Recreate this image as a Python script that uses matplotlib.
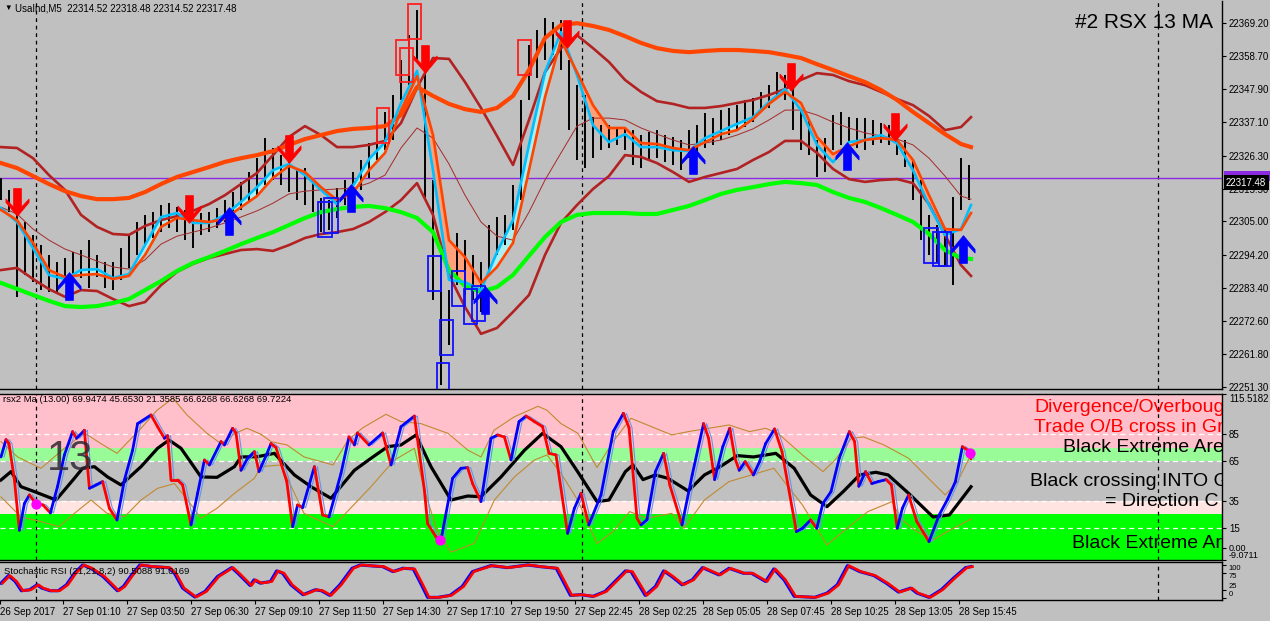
import numpy as np
import matplotlib
matplotlib.use("Agg")
import matplotlib.pyplot as plt
from matplotlib.path import Path
from matplotlib.collections import LineCollection
from matplotlib.patches import Rectangle
import matplotlib.transforms as mtransforms

plt.rcParams['font.family'] = ['Liberation Sans', 'DejaVu Sans']

# ------------------------------------------------------------------ data
# price bars (every 4th M5 bar), high / low
bar_high = [22319.1, 22315.2, 22308.0, 22304.8, 22300.6, 22297.3, 22294.1, 22291.8, 22293.1, 22295.0,
            22295.7, 22298.9, 22294.1, 22291.8, 22291.8, 22296.3, 22300.6, 22304.8, 22307.1, 22308.0,
            22310.3, 22310.9, 22309.6, 22308.7, 22307.1, 22307.7, 22308.0, 22309.3, 22311.9, 22314.5,
            22317.8, 22321.0, 22325.5, 22332.0, 22328.8, 22326.5, 22324.2, 22321.6, 22322.3, 22318.4,
            22312.6, 22311.9, 22315.8, 22318.4, 22321.0, 22324.9, 22330.4, 22336.2, 22340.5, 22346.0,
            22357.3, 22365.4, 22373.6, 22357.3, 22318.4, 22295.7, 22282.7, 22301.2, 22298.9, 22294.1,
            22291.8, 22303.8, 22306.4, 22307.1, 22316.8, 22344.4, 22362.2, 22367.1, 22371.0, 22369.7,
            22370.3, 22357.3, 22349.2, 22346.0, 22338.8, 22336.2, 22336.2, 22335.6, 22335.3, 22334.6,
            22333.0, 22334.0, 22334.6, 22333.0, 22332.4, 22331.4, 22334.6, 22336.2, 22340.1, 22338.5,
            22341.1, 22341.8, 22342.7, 22344.4, 22345.0, 22347.0, 22349.2, 22353.4, 22352.5, 22349.9,
            22341.1, 22337.9, 22331.4, 22332.0, 22339.5, 22340.5, 22338.8, 22338.5, 22338.5, 22337.9,
            22336.9, 22336.2, 22334.6, 22331.4, 22324.9, 22318.4, 22307.1, 22303.8, 22302.2, 22312.9,
            22325.5, 22323.3]
bar_low = [22311.9, 22308.0, 22280.5, 22287.6, 22285.3, 22282.7, 22282.1, 22281.7, 22285.3, 22286.0,
           22286.6, 22283.4, 22286.9, 22283.4, 22282.7, 22286.0, 22289.9, 22294.1, 22297.3, 22299.6,
           22301.5, 22302.8, 22301.5, 22298.9, 22296.3, 22300.6, 22301.5, 22302.8, 22304.8, 22306.1,
           22308.7, 22311.3, 22313.5, 22316.8, 22318.4, 22316.8, 22314.5, 22311.9, 22310.3, 22308.0,
           22301.5, 22302.2, 22306.1, 22310.3, 22312.6, 22315.2, 22319.1, 22324.9, 22328.1, 22331.4,
           22344.4, 22349.2, 22357.3, 22311.9, 22279.5, 22251.9, 22264.9, 22284.3, 22281.1, 22279.5,
           22275.6, 22289.2, 22294.1, 22297.3, 22302.2, 22311.9, 22344.4, 22351.5, 22357.3, 22359.0,
           22354.1, 22334.6, 22324.9, 22322.3, 22325.5, 22328.1, 22328.8, 22329.8, 22328.1, 22323.3,
           22322.3, 22324.9, 22325.5, 22324.2, 22323.3, 22321.6, 22325.5, 22327.5, 22328.8, 22329.8,
           22331.4, 22333.0, 22334.6, 22335.6, 22337.2, 22340.5, 22341.8, 22345.0, 22344.4, 22334.6,
           22328.1, 22326.5, 22319.4, 22321.0, 22328.1, 22329.8, 22330.4, 22328.8, 22328.1, 22329.8,
           22330.4, 22329.8, 22326.5, 22322.6, 22311.9, 22298.9, 22294.1, 22291.8, 22290.8, 22284.3,
           22308.7, 22311.9]
bar_index = np.arange(len(bar_high)) * 4

# indicator lines in the main window (every 8th bar + last bar)
line_bars = np.r_[np.arange(0, 481, 8), 485]
ma_slow = [22323.9, 22322.3, 22319.7, 22317.1, 22314.8, 22313.2, 22312.2, 22312.2, 22312.6, 22314.5,
           22317.1, 22319.4, 22321.0, 22322.6, 22324.3, 22325.5, 22326.5, 22327.8, 22329.8, 22331.7,
           22333.0, 22334.3, 22335.0, 22335.3, 22335.9, 22339.5, 22348.6, 22345.7, 22343.1, 22341.4,
           22340.5, 22341.8, 22345.7, 22354.1, 22364.5, 22368.7, 22369.3, 22368.4, 22367.1, 22365.1,
           22362.9, 22361.2, 22360.3, 22359.9, 22360.3, 22360.6, 22360.6, 22360.3, 22359.9, 22359.0,
           22358.0, 22356.0, 22354.1, 22352.1, 22350.2, 22347.6, 22344.4, 22340.5, 22336.9, 22333.3,
           22330.1, 22329.1]
ma_green = [22285.0, 22283.1, 22281.1, 22279.2, 22277.5, 22277.2, 22277.5, 22278.5, 22279.8, 22282.7,
            22285.6, 22288.9, 22291.5, 22293.4, 22295.4, 22297.6, 22299.6, 22301.5, 22303.8, 22306.1,
            22308.0, 22309.0, 22309.7, 22310.0, 22309.3, 22308.0, 22306.1, 22301.5, 22289.2, 22284.0,
            22282.1, 22283.7, 22287.6, 22293.8, 22299.9, 22304.8, 22307.1, 22307.7, 22307.7, 22307.7,
            22307.4, 22307.4, 22308.7, 22310.0, 22311.9, 22313.9, 22315.2, 22316.1, 22317.1, 22317.8,
            22317.4, 22316.8, 22314.5, 22312.6, 22311.3, 22309.3, 22307.1, 22304.8, 22300.9, 22295.7,
            22293.1, 22292.8]
band_up = [22329.1, 22328.8, 22325.5, 22320.0, 22315.2, 22307.1, 22303.2, 22300.9, 22300.6, 22303.5,
           22305.4, 22306.7, 22308.4, 22310.6, 22313.5, 22317.1, 22320.7, 22326.5, 22332.4, 22335.9,
           22333.0, 22329.1, 22329.1, 22329.8, 22331.1, 22336.9, 22348.3, 22358.0, 22357.7, 22350.2,
           22341.8, 22332.7, 22323.3, 22337.9, 22353.4, 22361.2, 22365.4, 22361.2, 22356.7, 22350.9,
           22347.0, 22344.0, 22343.1, 22341.8, 22341.8, 22342.4, 22343.4, 22344.4, 22346.0, 22347.9,
           22350.9, 22353.1, 22352.5, 22350.5, 22349.2, 22347.0, 22344.7, 22342.7, 22339.2, 22334.6,
           22335.6, 22338.8]
band_mid = [22309.6, 22307.4, 22302.5, 22298.9, 22296.0, 22294.1, 22292.1, 22290.2, 22289.5, 22292.5,
            22297.6, 22300.2, 22301.5, 22302.8, 22304.5, 22306.4, 22308.4, 22310.9, 22313.9, 22314.8,
            22315.2, 22315.5, 22315.8, 22317.4, 22320.0, 22328.8, 22335.3, 22332.0, 22323.6, 22313.5,
            22304.8, 22300.2, 22298.9, 22308.0, 22318.4, 22327.2, 22335.9, 22338.5, 22338.5, 22337.9,
            22335.3, 22333.3, 22331.4, 22329.8, 22330.4, 22331.4, 22333.0, 22335.0, 22337.9, 22341.1,
            22341.1, 22339.5, 22337.2, 22335.3, 22333.7, 22332.7, 22331.7, 22329.8, 22325.5, 22319.7,
            22313.2, 22312.2]
band_low = [22289.2, 22289.9, 22286.3, 22283.0, 22280.5, 22282.7, 22282.4, 22279.8, 22277.5, 22278.8,
            22284.3, 22288.6, 22291.2, 22293.1, 22294.4, 22295.7, 22296.0, 22295.4, 22297.3, 22299.6,
            22300.9, 22301.5, 22302.5, 22304.8, 22308.0, 22311.9, 22317.4, 22307.1, 22287.6, 22277.2,
            22268.5, 22270.4, 22275.6, 22281.1, 22294.1, 22304.5, 22310.3, 22315.5, 22319.7, 22326.5,
            22325.9, 22323.9, 22321.0, 22317.8, 22319.4, 22320.7, 22322.0, 22324.9, 22327.5, 22331.1,
            22331.1, 22327.2, 22322.0, 22318.7, 22317.8, 22318.4, 22318.7, 22317.4, 22310.6, 22300.6,
            22290.8, 22287.3]
fast_cyan = [22309.3, 22304.8, 22296.3, 22287.6, 22286.3, 22289.2, 22289.5, 22286.6, 22287.9, 22297.3,
             22306.4, 22307.7, 22304.5, 22304.5, 22307.1, 22311.3, 22316.1, 22321.6, 22323.6, 22320.0,
             22315.2, 22310.6, 22316.5, 22325.2, 22330.7, 22343.4, 22353.8, 22321.6, 22286.0, 22285.3,
             22282.7, 22295.0, 22305.4, 22329.8, 22353.4, 22366.4, 22352.5, 22336.2, 22330.7, 22333.3,
             22329.1, 22329.1, 22328.1, 22327.8, 22332.0, 22334.3, 22336.6, 22338.8, 22343.7, 22347.9,
             22341.1, 22329.8, 22324.2, 22330.7, 22331.4, 22333.0, 22330.4, 22321.6, 22310.3, 22300.6,
             22302.5, 22310.3]
fast_orange = [22308.7, 22305.4, 22298.0, 22289.2, 22286.9, 22287.6, 22287.9, 22286.3, 22287.3, 22294.1,
               22303.2, 22306.1, 22305.4, 22304.8, 22305.8, 22309.6, 22313.2, 22319.1, 22323.0, 22321.0,
               22316.1, 22311.9, 22314.2, 22321.6, 22327.2, 22341.1, 22352.1, 22333.0, 22298.9, 22293.4,
               22285.0, 22290.2, 22298.0, 22321.6, 22345.3, 22363.8, 22353.4, 22342.7, 22335.3, 22335.3,
               22330.4, 22330.1, 22328.8, 22328.1, 22330.7, 22333.3, 22334.6, 22338.2, 22343.1, 22347.0,
               22343.4, 22332.4, 22326.8, 22329.4, 22331.4, 22332.0, 22331.4, 22324.9, 22313.5, 22302.5,
               22302.2, 22307.7]

# signal arrows
sell_bar = [8, 94, 144, 212, 283, 395, 447]
sell_price = [22311.3, 22309.0, 22328.5, 22357.7, 22365.8, 22351.8, 22335.6]
buy_bar = [34, 114, 175, 242, 346, 423, 481]
buy_price = [22284.0, 22305.1, 22312.6, 22279.5, 22324.9, 22326.2, 22296.0]

# signal boxes: (first bar, last bar, top, bottom)
red_boxes = [(188, 194, 22341.8, 22330.4), (197.5, 204, 22363.8, 22352.5),
             (199.5, 206, 22361.2, 22350.2), (203.5, 210, 22375.5, 22364.1),
             (258.5, 265, 22363.8, 22352.5)]
blue_boxes = [(158.5, 165.5, 22311.3, 22299.9), (161.5, 168.5, 22312.6, 22301.2),
              (213.5, 220, 22293.8, 22282.4), (218, 224, 22259.0, 22249.6),
              (219.5, 226, 22273.0, 22261.6), (225.5, 232, 22288.9, 22277.5),
              (231.5, 238, 22283.0, 22271.7), (235.5, 242, 22284.0, 22272.7),
              (461.5, 468.5, 22302.8, 22291.5), (466, 473, 22301.5, 22290.5),
              (469, 475, 22301.5, 22290.5)]

price_ticks = [22369.20, 22358.70, 22347.90, 22337.10, 22326.30, 22315.50,
               22305.00, 22294.20, 22283.40, 22272.60, 22261.80, 22251.30]
last_price = 22317.48
hline_price = 22319.0
day_separators = [17.5, 290.5, 578.5]

# RSX window
rsx_bar = [0, 2.5, 4, 6.7, 9.2, 11.7, 14.2, 17.5, 21, 24.7, 28.3, 31.7, 35.8, 37.8, 41.7, 44.2, 47.5,
           50.8, 54.2, 58, 61.7, 65.8, 68.3, 75, 78.3, 81.7, 83.3, 85, 88.3, 90.8, 95, 98.3, 101.7,
           104.2, 110, 111.7, 115.8, 117.5, 120, 123.3, 126.7, 129, 132.7, 135, 137.5, 142.9, 145.8,
           148.3, 150.8, 156.7, 160.8, 164, 170, 174, 176.7, 178.3, 184, 190.8, 195, 200, 206.7, 211.7,
           213.3, 217.5, 220, 225.8, 230, 233.3, 235.8, 240, 245, 248.3, 251.7, 255, 259, 262.5, 266.7,
           270.8, 274, 277.5, 283.3, 286.7, 290, 293.9, 300, 306.1, 311.2, 314, 318, 320, 323, 327.2,
           331.3, 334.4, 340.5, 345.6, 351.3, 353.8, 356.8, 360.9, 364.4, 367, 369.1, 372.1, 376.2,
           379.3, 382.3, 386.8, 390.5, 397.7, 400.7, 404.8, 407.9, 410.9, 415, 419.1, 424.2, 426.8,
           428.9, 432.3, 435.4, 438.5, 442.6, 445.2, 448.1, 450.7, 453.8, 457.9, 464, 469.1, 473.2,
           477.2, 480.7, 483.4, 485]
rsx_val = [68, 81, 78, 51, 13, 33, 39.5, 33, 32, 26, 46, 69.5, 87, 82, 88, 44.5, 47,
           49.5, 29.5, 20.7, 50.7, 73, 93, 99.5, 90.7, 82, 84, 50.7, 50.7, 47, 17, 40.7, 65.7,
           62, 79.5, 77, 89.5, 86, 58, 67, 72, 57, 69.5, 78, 75, 49.5, 15.7,
           32, 30, 60.7, 24.5, 23, 55.7, 83, 77, 86, 77, 86, 62, 90.7, 98.7, 43,
           18, 8, 5.7, 52, 59.5, 60, 48, 34.5, 82, 84.5, 83, 65.7, 94.5, 98.7, 94.5,
           90.7, 70.7, 69.5, 10.7, 29.5, 40.7, 17, 39.5, 87, 100.7, 90, 22, 17, 21, 57,
           70.7, 47, 17, 54.5, 93, 82, 51, 75.7, 89.5, 67, 58, 64.5, 54.5,
           64.5, 78, 89, 72, 12, 14.5, 20.7, 14.5, 33, 42, 67, 87, 79.5,
           46, 57, 48, 49.5, 51, 47, 14.5, 29.5, 39.5, 19.5, 4.5, 24.5, 36,
           49.5, 75.7, 73, 66.6]
rsx_ma_bar = [0, 5, 10, 16.7, 27.5, 36.7, 40.8, 46.7, 53.3, 60, 70, 78.3, 84, 90, 100, 108, 116.7,
              120, 128.3, 136.7, 146.7, 155, 165, 176.7, 185, 193.3, 200, 207.5, 215, 225, 233.3,
              240, 250, 261.7, 270.8, 280, 288.3, 298, 304, 312.2, 316, 321, 327.2, 333.4, 343.6,
              351.7, 359.9, 368.1, 376.2, 387.4, 396.6, 404.8, 413, 421.1, 429.3, 437.4, 443.6,
              453.8, 466, 474.2, 485]
rsx_ma_val = [50.7, 57, 45.7, 42, 35.7, 52, 59.5, 60.7, 53, 47, 60.7, 74.5, 80.7, 74.5, 53, 52.7, 60.7,
              68, 68.2, 70.7, 54.5, 45.7, 37, 58, 67, 75.7, 77, 84.5, 60.7, 35.7, 38.7,
              38.2, 53, 73, 85.7, 75.7, 57, 34.5, 35.7, 57, 62, 51, 54.5, 52, 42.5,
              54.5, 61, 69, 68, 70.7, 59.5, 39.5, 30.7, 42, 54.5, 56.5, 54.5,
              40.7, 23, 24.5, 45.65]
rsx_up_bar = [0, 8.3, 20, 31.7, 41.7, 50, 58, 70, 78, 86, 93, 103, 110, 117, 123, 130, 135, 143,
              151.5, 160, 166, 173.5, 181, 192.5, 200, 210, 223.5, 233.5, 240, 246.5, 256.5, 268.5,
              273, 280, 288.5, 298, 306, 315, 327.2, 335.4, 343.6, 364, 374.2, 382.3, 388.5,
              400.7, 411, 417, 425.2, 431.3, 441.5, 453.8, 462, 472.1, 478.3, 485]
rsx_up_val = [79.5, 68, 59.5, 74.5, 86, 78, 70.7, 89.5, 103, 112, 99.5, 85.7, 78, 85.7, 89.5, 85, 79.5, 77,
              68, 64.5, 62, 80.7, 90, 100, 94.5, 93, 85.7, 73, 68, 88, 98, 106,
              103, 93, 85.7, 60, 79.5, 97, 89.5, 84.5, 87, 92, 87, 89.5, 85.7,
              69.5, 57, 65.7, 82, 83, 77, 67, 54.5, 39.5, 49.5, 69.9]
rsx_lo_bar = [0, 10, 20, 29, 36.7, 45, 53, 61.7, 70, 78.3, 86.7, 93.3, 100, 108, 116.7, 126.7, 130,
              140, 151.5, 166, 185, 196.7, 206.7, 211.7, 218, 225, 236.7, 246.7, 256.7, 266.7, 273,
              280, 288.3, 298, 306, 314.3, 323, 335.4, 341.5, 351.7, 364, 386.4, 400.7, 413, 421,
              433.4, 445.6, 449.7, 457.9, 466, 476.2, 485]
rsx_lo_val = [38, 23, 19.5, 15.7, 25.7, 35.7, 25.7, 23, 35.7, 44.5, 48, 35.7, 22, 29.5, 40.7, 52, 60.7,
              62, 25.7, 15.7, 45.7, 65.7, 74.5, 43, 13, -3.5, 3.2, 35.7, 53, 65.7, 69.5,
              55.7, 35.7, 3, 12, 27, 22, 25.7, 14.5, 35.7, 49.5, 59.5, 32, 2, 12,
              27, 34.5, 22, 12, 5.7, 14.5, 21.4]
dot_bar = [17.5, 219.7, 484.4]
dot_val = [32.7, 5.7, 70.7]
rsx_levels = [115, 85, 65, 35, 15]
rsx_tick_vals = [115.5182, 85, 65, 35, 15, 0, -9.0711]
rsx_tick_text = ['115.5182', '85', '65', '35', '15', '0.00', '-9.0711']

# Stochastic RSI window
stoch_bar = [0, 3.7, 7.1, 10.2, 14.3, 18, 20.4, 24.5, 28.6, 32.7, 36.7, 40.8, 44.9, 51, 58.2, 61.2,
             65.3, 69.4, 75.5, 83.7, 86.7, 90.8, 96.9, 102, 108.2, 115.3, 118.4, 124.5, 126.5, 129.6,
             134.7, 137.8, 140.8, 144.9, 151, 157.1, 160.2, 164.3, 169.4, 175.5, 179.6, 185.7, 190.8,
             195.9, 201, 206.1, 210.2, 213.3, 218.4, 224.5, 230.6, 235.7, 244.9, 253.1, 263.3, 269.4,
             277.6, 284.7, 289.8, 295.9, 302, 312.2, 315, 322.1, 327.2, 331.3, 335.4, 340.5, 345.6,
             350.7, 358.9, 364, 371.1, 375.2, 382.3, 386.4, 391.5, 396.6, 406.8, 413, 418.1, 423.2,
             429.3, 436.4, 442.6, 448.7, 454.8, 457.9, 464, 470.1, 476.2, 482.3, 485]
stoch_val = [45, 68, 50, 22, 25, 40, 30, 22, 22, 40, 75, 100, 90, 65, 22, 35,
             70, 100, 95, 92, 75, 30, 3, 20, 65, 92, 75, 38, 55, 45,
             50, 82, 75, 40, 10, 25, 22, 8, 40, 90, 100, 97, 95,
             80, 90, 88, 40, 2, 2, 8, 35, 80, 98, 92, 100, 95,
             90, 8, 10, 5, 20, 82, 80, 8, 35, 82, 65, 40, 55,
             92, 70, 90, 75, 75, 50, 88, 55, 5, 2, 15, 40, 98,
             80, 68, 45, 18, 30, 15, 2, 25, 60, 92, 95]
stoch_tick_vals = [100, 75, 25, 0]

time_tick_bars = [-0.5, 31, 63, 95, 127, 159, 191, 223, 255, 287, 319, 351, 383, 415, 447, 479]
time_labels = ['26 Sep 2017', '27 Sep 01:10', '27 Sep 03:50', '27 Sep 06:30', '27 Sep 09:10',
               '27 Sep 11:50', '27 Sep 14:30', '27 Sep 17:10', '27 Sep 19:50', '27 Sep 22:45',
               '28 Sep 02:25', '28 Sep 05:05', '28 Sep 07:45', '28 Sep 10:25', '28 Sep 13:05',
               '28 Sep 15:45']

# ------------------------------------------------------------------ figure
W, H = 1270, 621
BG = '#C0C0C0'
fig = plt.figure(figsize=(W / 100, H / 100), dpi=100, facecolor=BG)


def ax_at(x0, y0, x1, y1):
    return fig.add_axes([x0 / W, 1 - y1 / H, (x1 - x0) / W, (y1 - y0) / H])


ax1 = ax_at(0, 1, 1222, 389)
ax2 = ax_at(0, 393.6, 1222, 559.7)
ax3 = ax_at(0, 562, 1222, 600)
XLIM = (-0.5, 610.5)
for a in (ax1, ax2, ax3):
    a.set_facecolor(BG)
    a.set_xlim(*XLIM)
    a.spines['left'].set_visible(False)
    for s in ('right', 'bottom', 'top'):
        a.spines[s].set_color('black')
        a.spines[s].set_linewidth(1)
    a.yaxis.tick_right()
    a.tick_params(axis='y', direction='out', length=3, width=0.8, labelsize=7, pad=2, colors='black')
    for d in day_separators:
        a.axvline(d, color='black', lw=0.9, ls=(0, (3, 3)), zorder=1)
ax1.spines['top'].set_visible(False)

# ---------------- main window
ax1.set_ylim(22250.6, 22376.5)
ax1.set_xticks([])
ax1.set_yticks(price_ticks)
ax1.set_yticklabels(['%.2f' % t for t in price_ticks])

ax1.axhline(hline_price, color='#8A2BE2', lw=1.0, zorder=1)

fc = np.array(fast_cyan)
fo = np.array(fast_orange)
ax1.fill_between(line_bars, fc, fo, where=fc >= fo, interpolate=True, color='#AFEEEE', lw=0, zorder=1.5)
ax1.fill_between(line_bars, fc, fo, where=fc < fo, interpolate=True, color='#FFA07A', lw=0, zorder=1.5)

ax1.vlines(bar_index, bar_low, bar_high, color='black', lw=1.4, zorder=2)

ax1.plot(line_bars, band_up, color='#B22222', lw=1.9, zorder=3)
ax1.plot(line_bars, band_low, color='#B22222', lw=1.9, zorder=3)
ax1.plot(line_bars, band_mid, color='#A52A2A', lw=0.7, zorder=3)
ax1.plot(line_bars, ma_slow, color='#FF4500', lw=3.0, zorder=3)
ax1.plot(line_bars, ma_green, color='#00FF00', lw=3.0, zorder=3)
ax1.plot(line_bars, fast_orange, color='#FF4500', lw=1.9, zorder=3.2)
ax1.plot(line_bars, fast_cyan, color='#00BFFF', lw=1.9, zorder=3.1)

for b0, b1, top, bot in red_boxes:
    ax1.add_patch(Rectangle((b0, bot), b1 - b0, top - bot, fill=False, ec='#FF2020', lw=1.3, zorder=4))
for b0, b1, top, bot in blue_boxes:
    ax1.add_patch(Rectangle((b0, bot), b1 - b0, top - bot, fill=False, ec='#1010FF', lw=1.3, zorder=4))

up_v = [(0, 0.6), (0.5, 0.0), (0.5, -0.15), (0.17, 0.2), (0.17, -0.6), (-0.17, -0.6),
        (-0.17, 0.2), (-0.5, -0.15), (-0.5, 0.0), (0, 0.6)]
codes = [Path.MOVETO] + [Path.LINETO] * 8 + [Path.CLOSEPOLY]
up_path = Path(up_v, codes)
down_path = Path([(x, -y) for x, y in up_v], codes)
ax1.plot(buy_bar, buy_price, ls='none', marker=up_path, ms=20, color='#0000FF', mec='#0000FF', mew=0.5, zorder=5)
ax1.plot(sell_bar, sell_price, ls='none', marker=down_path, ms=20, color='#FF0000', mec='#FF0000', mew=0.5, zorder=5)

# price labels on the right scale: purple line marker peeking behind the black last-price box
blend1 = mtransforms.blended_transform_factory(ax1.transAxes, ax1.transData)
ax1.add_patch(Rectangle((1.0 + 2 / 1222, hline_price - 1.0), 46 / 1222, 3.2, transform=blend1,
                        fc='#8A2BE2', ec='none', clip_on=False, zorder=6))
ax1.text(1.0 + 4 / 1222, last_price, '%.2f' % last_price, transform=blend1, fontsize=7, color='white',
         va='center', ha='left', clip_on=False, zorder=7,
         bbox=dict(boxstyle='square,pad=0.25', fc='black', ec='none'))

fig.text(4 / W, 1 - 8.5 / H, '\u25BC', fontsize=5.5, color='black', va='center', ha='left')
fig.text(15 / W, 1 - 8.5 / H, 'UsaInd,M5  22314.52 22318.48 22314.52 22317.48', fontsize=7,
         color='black', va='center', ha='left')
fig.text(1213 / W, 1 - 22 / H, '#2 RSX 13 MA', fontsize=15, color='black', va='center', ha='right')

# ---------------- RSX window
ax2.set_ylim(-9.0711, 115.5182)
ax2.set_xticks([])
ax2.axhspan(75, 130, color='#FFC0CB', lw=0, zorder=0)
ax2.axhspan(65, 75, color='#98FB98', lw=0, zorder=0)
ax2.axhspan(25, 35, color='#FFE4E1', lw=0, zorder=0)
ax2.axhspan(-20, 25, color='#00FF00', lw=0, zorder=0)
for lv in rsx_levels:
    ax2.axhline(lv, color='white', lw=0.9, ls=(0, (4, 3)), zorder=0.5)
ax2.set_yticks(rsx_tick_vals)
ax2.set_yticklabels(rsx_tick_text)
ylabs = ax2.get_yticklabels()
ylabs[0].set_va('top')
ylabs[-1].set_va('bottom')
ylabs[-1].set_fontsize(6.5)
ylabs[-2].set_fontsize(6.5)

ax2.plot(rsx_up_bar, rsx_up_val, color='#C08A30', lw=0.8, zorder=2)
ax2.plot(rsx_lo_bar, rsx_lo_val, color='#C08A30', lw=0.8, zorder=2)
ax2.plot(rsx_ma_bar, rsx_ma_val, color='black', lw=2.3, zorder=3)
sig_tr = mtransforms.offset_copy(ax2.transData, fig=fig, x=3, y=0, units='dots')
ax2.plot(rsx_bar, rsx_val, color='#6495ED', lw=0.8, zorder=3.5, transform=sig_tr)
rb = np.array(rsx_bar, dtype=float)
rv = np.array(rsx_val, dtype=float)
segs = np.stack([np.column_stack([rb[:-1], rv[:-1]]), np.column_stack([rb[1:], rv[1:]])], axis=1)
cols = ['#0000FF' if d > 0 else '#FF0000' for d in np.diff(rv)]
ax2.add_collection(LineCollection(segs, colors=cols, linewidths=2.0, zorder=4, capstyle='round'))
ax2.scatter(dot_bar, dot_val, s=55, color='#FF00FF', zorder=5, lw=0)


def ax2_text(xp, yp, s, **kw):
    ax2.text(xp / 1222, (559.7 - yp) / 166.1, s, transform=ax2.transAxes, clip_on=True, **kw)


ax2_text(3, 399, 'rsx2 Ma (13.00) 69.9474 45.6530 21.3585 66.6268 66.6268 69.7224', fontsize=6.8,
         color='black', va='center', ha='left', zorder=6)
ax2_text(47, 459, '13', fontsize=30, color='#2e2834', alpha=0.85, va='center', ha='left', zorder=6)
ax2_text(1034, 407, 'Divergence/Overboug', fontsize=14, color='#FF0000', va='center', ha='left', zorder=6)
ax2_text(1034, 428, 'Trade O/B cross in Gr', fontsize=14, color='#FF0000', va='center', ha='left', zorder=6)
ax2_text(1063, 447, 'Black Extreme Are', fontsize=14, color='black', va='center', ha='left', zorder=6)
ax2_text(1030, 481, 'Black crossing INTO G', fontsize=14, color='black', va='center', ha='left', zorder=6)
ax2_text(1105, 502, '= Direction C', fontsize=14, color='black', va='center', ha='left', zorder=6)
ax2_text(1072, 544, 'Black Extreme Ar', fontsize=14, color='black', va='center', ha='left', zorder=6)

# ---------------- Stochastic RSI window
ax3.set_ylim(-6, 109)
ax3.set_yticks(stoch_tick_vals)
ax3.set_yticklabels([str(v) for v in stoch_tick_vals])
ax3.tick_params(axis='y', labelsize=5.5)
slabs = ax3.get_yticklabels()
slabs[0].set_va('top')
slabs[1].set_va('top')
slabs[2].set_va('bottom')
slabs[3].set_va('bottom')
ax3.plot(stoch_bar, stoch_val, color='#0000FF', lw=2.2, zorder=3)
red_tr = mtransforms.offset_copy(ax3.transData, fig=fig, x=1.5, y=0, units='dots')
ax3.plot(stoch_bar, stoch_val, color='#FF0000', lw=1.9, zorder=4, transform=red_tr)
ax3.text(4 / 1222, (600 - 571) / 38, 'Stochastic RSI (21,21,8,2) 90.5088 91.0169', transform=ax3.transAxes,
         fontsize=6.8, color='black', va='center', ha='left', zorder=6)
ax3.set_xticks(time_tick_bars)
ax3.set_xticklabels(time_labels)
ax3.tick_params(axis='x', direction='out', length=3, width=0.8, labelsize=7, pad=2, colors='black')
for lbl in ax3.get_xticklabels():
    lbl.set_ha('left')

fig.savefig('out.png', dpi=100, facecolor=BG)
